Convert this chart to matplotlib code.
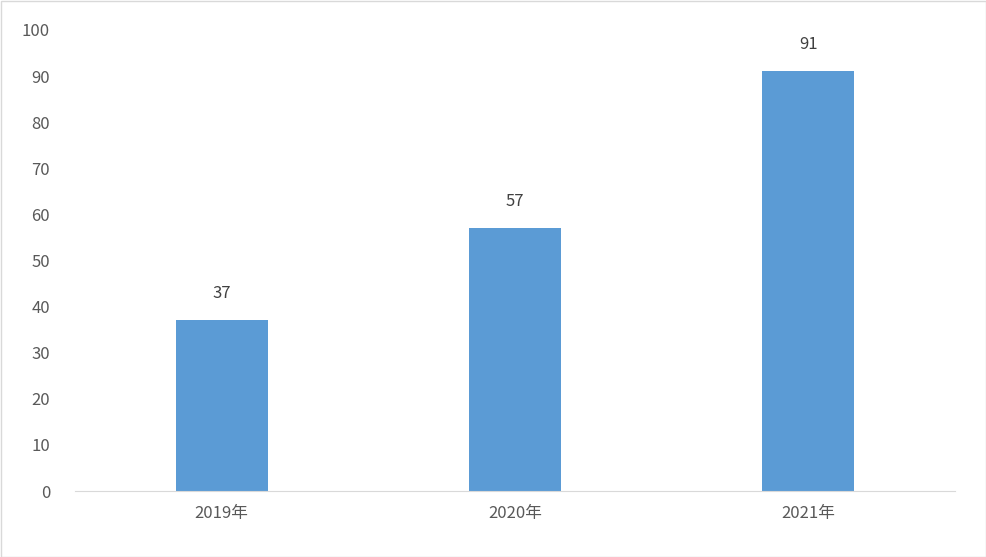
import matplotlib
matplotlib.use("Agg")
import matplotlib.pyplot as plt
from matplotlib.patches import Rectangle

plt.rcParams['font.family'] = ['Noto Sans CJK SC', 'DejaVu Sans']

categories = ["2019年", "2020年", "2021年"]
values = [37, 57, 91]

W, H = 986, 557
fig = plt.figure(figsize=(W/100, H/100), dpi=100)
ax = fig.add_axes([75/W, (H-491)/H, (955-75)/W, (491-30)/H])
x = range(len(categories))
bars = ax.bar(x, values, width=0.314, color="#5B9BD5")
for xi, v in zip(x, values):
    ax.text(xi, v + 4, str(v), ha="center", va="bottom", fontsize=12, color="#404040")
ax.set_xlim(-0.5, 2.5)
ax.set_ylim(0, 100)
ax.set_yticks(range(0, 101, 10))
ax.set_xticks(list(x))
ax.set_xticklabels(categories)
ax.tick_params(axis="both", length=0, labelsize=12, labelcolor="#595959")
ax.tick_params(axis="y", pad=18)
ax.tick_params(axis="x", pad=10)
for s in ["top", "right", "left"]:
    ax.spines[s].set_visible(False)
ax.spines["bottom"].set_color("#D9D9D9")
fig.patches.append(Rectangle((0.5/W, 0.5/H), 1-1/W, 1-1/H, transform=fig.transFigure,
                             fill=False, edgecolor="#D9D9D9", linewidth=1))
fig.savefig("out.png", dpi=100)
